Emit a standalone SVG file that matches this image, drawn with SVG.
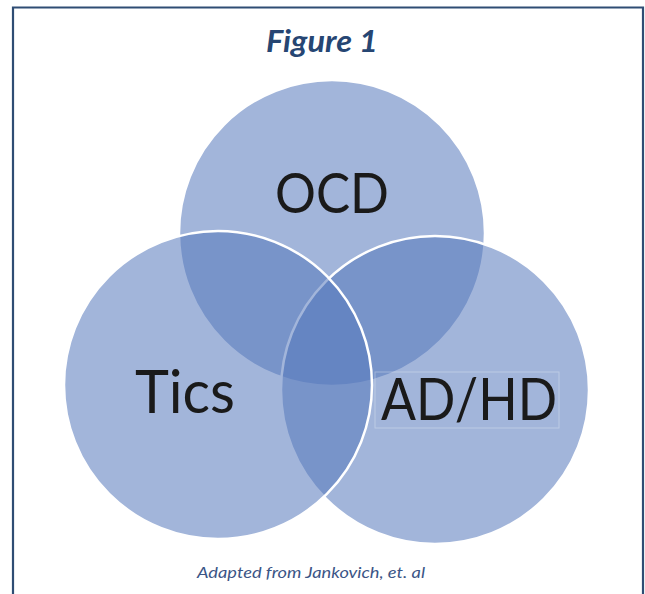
<svg xmlns="http://www.w3.org/2000/svg" width="645" height="594" viewBox="0 0 645 594">
<style>
.c{fill:rgb(85,120,188);fill-opacity:0.55;stroke:#ffffff;stroke-width:2.5}
.lbl{font-family:Lato,"Liberation Sans",Arial,sans-serif;fill:#1a1a1a;text-anchor:middle}
.ttl{font-family:Lato,"Liberation Sans",Arial,sans-serif;font-weight:bold;font-style:italic;fill:#264673;text-anchor:middle}
.cap{font-family:Lato,"Liberation Sans",Arial,sans-serif;font-style:italic;fill:#3b5586;text-anchor:middle}
</style>
<rect x="0" y="0" width="645" height="594" fill="#ffffff"/>
<path d="M13,600 V7.5 H643 V600" fill="none" stroke="#2f4d74" stroke-width="2.2"/>
<g id="title"><text class="ttl" x="322" y="52" font-size="31" textLength="112" lengthAdjust="spacingAndGlyphs">Figure 1</text></g>
<g id="ocd">
<circle class="c" cx="332" cy="233" r="153"/>
<text class="lbl" x="332" y="213" font-size="56" textLength="114" lengthAdjust="spacingAndGlyphs">OCD</text>
</g>
<g id="adhd">
<circle class="c" cx="435" cy="390" r="154"/>
<rect x="375" y="372" width="184" height="56" fill="none" stroke="#ffffff" stroke-opacity="0.3" stroke-width="1"/>
<text class="lbl" x="469" y="420" font-size="59" textLength="176" lengthAdjust="spacingAndGlyphs">AD/HD</text>
</g>
<g id="tics">
<circle class="c" cx="218" cy="385" r="154"/>
<text class="lbl" x="185" y="413" font-size="60" textLength="100" lengthAdjust="spacingAndGlyphs">Tics</text>
</g>
<g id="caption"><text class="cap" x="311" y="578" font-size="14.5" textLength="228" lengthAdjust="spacingAndGlyphs">Adapted from Jankovich, et. al</text></g>
</svg>
